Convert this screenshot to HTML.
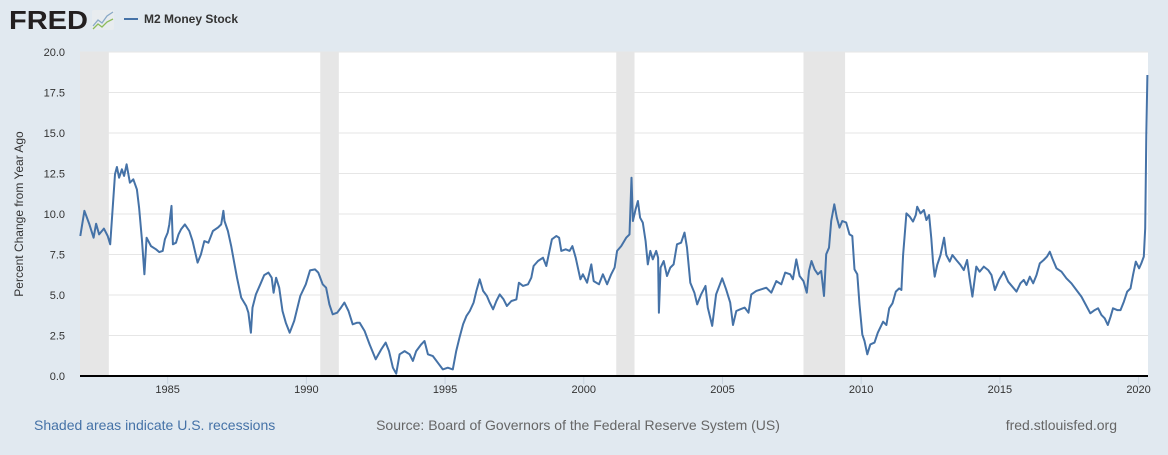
<!DOCTYPE html>
<html><head><meta charset="utf-8">
<style>
html,body{margin:0;padding:0;background:#e1e9f0;}
body{width:1168px;height:450px;overflow:hidden;font-family:"Liberation Sans",sans-serif;}
</style></head>
<body>
<svg id="chart" width="1168" height="450" xmlns="http://www.w3.org/2000/svg" font-family="Liberation Sans, sans-serif">
<rect width="1168" height="450" fill="#e1e9f0"/>
<g>
<text x="9" y="29" font-size="26" font-weight="bold" fill="#231f20" textLength="79" lengthAdjust="spacingAndGlyphs">FRED</text>
<rect x="92" y="10" width="22" height="20" fill="#e8ecef" rx="2"/>
<polyline points="93,26 98,20 102,23 107,16 113,12" fill="none" stroke="#8aa9c7" stroke-width="1.3"/>
<polyline points="93,29 98,24 102,27 107,22 113,19" fill="none" stroke="#8dbb5a" stroke-width="1.3"/>
</g>
<g>
<line x1="124" y1="19" x2="138" y2="19" stroke="#4572a7" stroke-width="2"/>
<text x="144" y="23" font-size="12" font-weight="bold" fill="#333">M2 Money Stock</text>
</g>
<rect x="80" y="52" width="1068" height="324" fill="#ffffff"/>
<g id="rec"></g><g id="grid"></g><g id="xt"></g><g id="line"></g>
<line x1="80" y1="376" x2="1148" y2="376" stroke="#000" stroke-width="2"/>
<text transform="translate(23,214) rotate(-90)" text-anchor="middle" font-size="12" fill="#333">Percent Change from Year Ago</text>
<text x="34" y="430" font-size="14" fill="#4572a7">Shaded areas indicate U.S. recessions</text>
<text x="578" y="430" text-anchor="middle" font-size="14" fill="#666">Source: Board of Governors of the Federal Reserve System (US)</text>
<text x="1117" y="430" text-anchor="end" font-size="14" fill="#666">fred.stlouisfed.org</text>
</svg>
<script>
const yTicks=[0,2.5,5,7.5,10,12.5,15,17.5,20];
const xTicks=[1985,1990,1995,2000,2005,2010,2015,2020];
const recStart=[1981.5,1990.5,2001.17,2007.92];
const recEnd=[1982.88,1991.17,2001.83,2009.42];
const years=[1981.85,1982.0,1982.18,1982.33,1982.42,1982.53,1982.7,1982.84,1982.93,1983.1,1983.17,1983.25,1983.35,1983.43,1983.52,1983.64,1983.76,1983.89,1983.97,1984.07,1984.16,1984.24,1984.4,1984.58,1984.7,1984.82,1984.9,1985.0,1985.06,1985.14,1985.19,1985.3,1985.39,1985.48,1985.62,1985.78,1985.9,1986.08,1986.2,1986.32,1986.47,1986.63,1986.81,1986.93,1987.01,1987.05,1987.17,1987.29,1987.41,1987.5,1987.65,1987.83,1987.91,1988.0,1988.06,1988.18,1988.34,1988.48,1988.63,1988.75,1988.82,1988.91,1989.02,1989.14,1989.26,1989.4,1989.56,1989.78,1989.98,1990.13,1990.31,1990.43,1990.59,1990.71,1990.83,1990.95,1991.11,1991.25,1991.37,1991.52,1991.67,1991.83,1991.92,1992.1,1992.28,1992.5,1992.7,1992.86,1992.98,1993.12,1993.24,1993.36,1993.54,1993.72,1993.84,1993.96,1994.14,1994.26,1994.38,1994.56,1994.74,1994.92,1995.1,1995.28,1995.4,1995.52,1995.65,1995.77,1995.89,1996.03,1996.13,1996.25,1996.37,1996.51,1996.61,1996.73,1996.85,1996.97,1997.11,1997.23,1997.39,1997.57,1997.66,1997.81,1997.99,1998.11,1998.19,1998.35,1998.53,1998.65,1998.75,1998.85,1999.01,1999.11,1999.19,1999.35,1999.49,1999.59,1999.71,1999.88,1999.97,2000.12,2000.27,2000.36,2000.55,2000.69,2000.84,2000.99,2001.11,2001.2,2001.35,2001.53,2001.65,2001.72,2001.77,2001.87,2001.95,2002.03,2002.13,2002.23,2002.31,2002.4,2002.49,2002.61,2002.68,2002.71,2002.77,2002.88,2003.0,2003.12,2003.24,2003.36,2003.51,2003.63,2003.72,2003.84,2003.99,2004.09,2004.23,2004.39,2004.47,2004.63,2004.77,2004.99,2005.13,2005.28,2005.38,2005.5,2005.64,2005.8,2005.94,2006.04,2006.22,2006.4,2006.58,2006.76,2006.94,2007.12,2007.26,2007.44,2007.54,2007.66,2007.78,2007.92,2008.04,2008.12,2008.21,2008.32,2008.44,2008.56,2008.66,2008.74,2008.84,2008.92,2009.03,2009.12,2009.22,2009.32,2009.46,2009.58,2009.68,2009.76,2009.86,2009.94,2010.04,2010.12,2010.22,2010.33,2010.48,2010.6,2010.79,2010.91,2011.01,2011.13,2011.25,2011.37,2011.45,2011.51,2011.57,2011.63,2011.75,2011.87,2011.97,2012.02,2012.14,2012.26,2012.35,2012.45,2012.53,2012.59,2012.65,2012.74,2012.86,2012.99,2013.07,2013.19,2013.29,2013.43,2013.58,2013.7,2013.82,2013.91,2014.01,2014.15,2014.27,2014.42,2014.58,2014.7,2014.82,2014.97,2015.14,2015.3,2015.45,2015.6,2015.74,2015.86,2015.96,2016.08,2016.2,2016.32,2016.44,2016.58,2016.7,2016.8,2016.89,2017.04,2017.22,2017.4,2017.58,2017.76,2017.94,2018.1,2018.26,2018.42,2018.54,2018.66,2018.78,2018.89,2018.99,2019.08,2019.23,2019.35,2019.47,2019.59,2019.71,2019.8,2019.9,2020.02,2020.1,2020.19,2020.24,2020.26,2020.28,2020.32];
const values=[8.64,10.2,9.36,8.54,9.4,8.74,9.1,8.64,8.13,12.45,12.9,12.24,12.76,12.35,13.07,11.93,12.14,11.52,10.39,8.44,6.28,8.54,8.02,7.82,7.65,7.72,8.44,8.85,9.36,10.5,8.13,8.23,8.74,9.05,9.36,8.95,8.33,7.0,7.5,8.33,8.23,8.95,9.16,9.36,10.2,9.57,8.95,8.02,6.9,6.07,4.84,4.32,3.91,2.67,4.22,5.04,5.66,6.23,6.38,6.07,5.14,6.07,5.45,4.01,3.29,2.67,3.4,4.94,5.66,6.52,6.58,6.38,5.66,5.45,4.42,3.81,3.91,4.22,4.53,4.01,3.19,3.29,3.29,2.78,1.95,1.03,1.65,2.06,1.54,0.51,0.14,1.34,1.54,1.34,0.93,1.54,1.95,2.16,1.34,1.23,0.82,0.41,0.51,0.41,1.54,2.37,3.19,3.7,4.01,4.53,5.25,5.97,5.25,4.94,4.53,4.12,4.63,5.04,4.73,4.32,4.63,4.73,5.76,5.56,5.66,6.07,6.79,7.1,7.3,6.79,7.61,8.44,8.64,8.54,7.72,7.82,7.72,8.02,7.3,5.97,6.28,5.76,6.89,5.86,5.66,6.28,5.66,6.28,6.69,7.72,8.02,8.54,8.74,12.24,9.57,10.29,10.8,9.77,9.47,8.33,6.89,7.72,7.2,7.72,7.3,3.91,6.69,7.1,6.17,6.69,6.89,8.13,8.23,8.85,7.92,5.76,5.14,4.42,5.04,5.56,4.22,3.09,5.04,6.03,5.35,4.53,3.15,4.01,4.12,4.22,3.91,5.04,5.25,5.35,5.45,5.14,5.86,5.66,6.38,6.28,5.97,7.2,6.17,5.86,5.14,6.48,7.1,6.58,6.28,6.48,4.94,7.51,7.92,9.57,10.6,9.77,9.16,9.57,9.47,8.74,8.64,6.58,6.28,4.42,2.57,2.16,1.34,1.95,2.06,2.67,3.35,3.15,4.18,4.49,5.21,5.41,5.31,7.47,8.7,10.04,9.84,9.53,9.94,10.45,10.04,10.25,9.63,9.94,8.5,7.06,6.13,6.85,7.47,8.54,7.47,7.06,7.47,7.16,6.85,6.54,7.16,6.03,4.9,6.75,6.44,6.75,6.54,6.23,5.31,5.93,6.44,5.82,5.51,5.21,5.72,5.93,5.62,6.13,5.72,6.23,6.95,7.16,7.37,7.67,7.26,6.65,6.44,6.03,5.72,5.31,4.9,4.38,3.87,4.07,4.18,3.77,3.56,3.15,3.66,4.18,4.07,4.07,4.59,5.21,5.41,6.23,7.06,6.65,6.95,7.37,9.12,12.2,14.88,18.58];
const NS='http://www.w3.org/2000/svg';
const X0=80,X1=1148,Y0=376,Y1=52,YMIN=1981.84,YMAX=2020.34;
function xs(t){return Math.max(X0,Math.min(X1,X0+(t-YMIN)/(YMAX-YMIN)*(X1-X0)));}
function ys(v){return Y0-(v/20)*(Y0-Y1);}
function mk(tag,attrs,parent){const e=document.createElementNS(NS,tag);for(const k in attrs)e.setAttribute(k,attrs[k]);document.getElementById(parent).appendChild(e);return e;}
recStart.forEach((s,i)=>{
 const e=mk('rect',{x:xs(s),y:Y1,width:xs(recEnd[i])-xs(s),height:Y0-Y1,fill:'#e6e6e6'},'rec');
 
 
});
yTicks.forEach(v=>{
 if(v>0){const g=mk('line',{x1:X0,x2:X1,y1:ys(v),y2:ys(v),stroke:'#e6e6e6','stroke-width':1},'grid');
 
 }
 const t=mk('text',{x:65,y:ys(v)+4,'text-anchor':'end','font-size':11,fill:'#333'},'grid');
 t.textContent=v.toFixed(1);
 
 
});
xTicks.forEach(yr=>{
 const l=mk('line',{x1:xs(yr),x2:xs(yr),y1:Y0,y2:Y0+8,stroke:'#c8d4e0','stroke-width':1},'xt');
 
 
 const t=mk('text',{x:xs(yr),y:Y0+17,'text-anchor':'middle','font-size':11,fill:'#333'},'xt');
 t.textContent=yr;
 
 
});
const p=mk('polyline',{points:years.map((t,i)=>xs(t).toFixed(1)+','+ys(values[i]).toFixed(1)).join(' '),fill:'none',stroke:'#4572a7','stroke-width':2,'stroke-linejoin':'round'},'line');


</script>
</body></html>
